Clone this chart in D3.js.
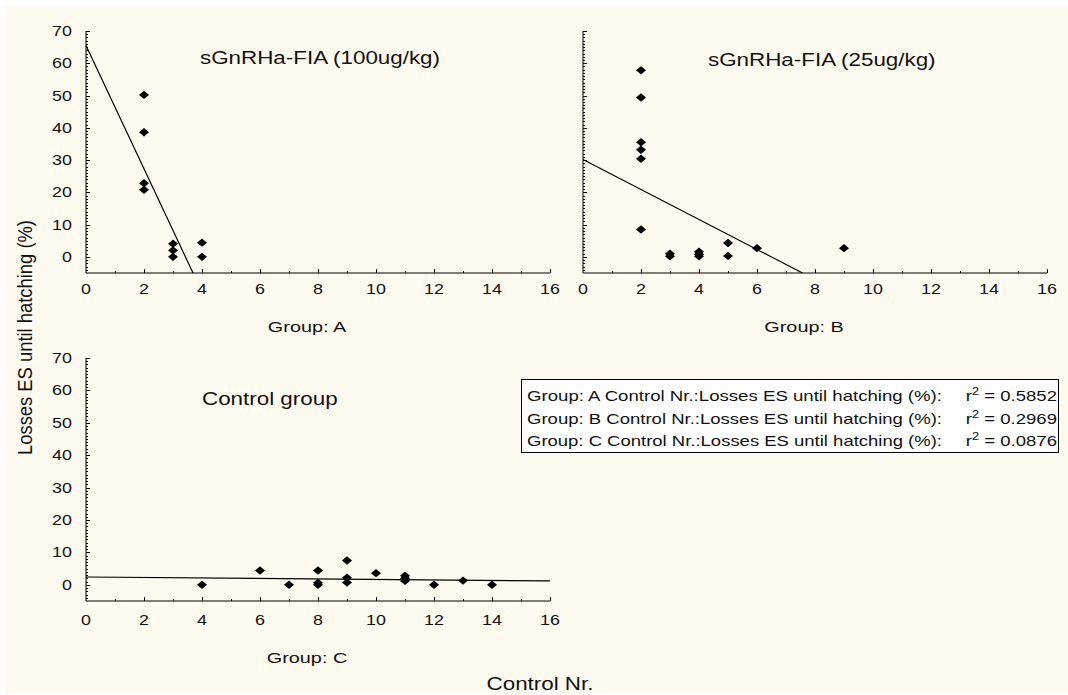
<!DOCTYPE html>
<html>
<head>
<meta charset="utf-8">
<script src="https://cdn.jsdelivr.net/npm/d3@7"></script>
<style>
  html, body { margin: 0; padding: 0; background: #fff; }
  .js-container { width: 1068px; height: 695px; }
  text { font-family: "Liberation Sans", Arial, sans-serif; fill: #111; }
</style>
</head>
<body>
<div class="js-container"></div>
<script>
// Values: Control Nr. (x) against losses (%) (y).
var groupNames = ['A', 'B', 'C'];
var panelTitles = ['sGnRHa-FIA (100ug/kg)', 'sGnRHa-FIA (25ug/kg)', 'Control group'];

var groupA_x = [2, 2, 2, 2, 3, 3, 3, 4, 4];
var groupA_y = [50.2, 38.6, 22.8, 20.8, 4.1, 2.0, 0, 4.4, 0];

var groupB_x = [2, 2, 2, 2, 2, 2, 3, 3, 4, 4, 4, 5, 5, 6, 9];
var groupB_y = [57.8, 49.4, 35.5, 33.2, 30.4, 8.5, 1.0, 0.2, 1.6, 0.8, 0.2, 4.3, 0.3, 2.7, 2.7];

var groupC_x = [4, 6, 7, 8, 8, 8, 9, 9, 9, 10, 11, 11, 11, 12, 13, 14];
var groupC_y = [0, 4.4, 0, 4.4, 0.6, 0, 7.5, 2.2, 0.7, 3.6, 2.8, 2.0, 1.2, 0, 1.3, 0];

// Fitted lines as drawn in the picture, and the r2 from the legend.
var fitIntercept = [65.5, 30.2, 2.4];
var fitSlope = [-19.1, -4.65, -0.075];
var rSquared = ['0.5852', '0.2969', '0.0876'];

var xTicks = [0, 2, 4, 6, 8, 10, 12, 14, 16];
var yTicks = [0, 10, 20, 30, 40, 50, 60, 70];

;(function() {
  'use strict';

  // The picture is stretched sideways, so the text is too.
  var SX = 1.28;

  var xDomain = [0, 16];
  var yDomain = [-5, 70];

  var panels = [
    {xs: groupA_x, ys: groupA_y, x0: 86,  x1: 550,  y0: 273, y1: 31,  yLabels: true,
     titleX: 200, titleY: 63.5, tickGap: 20.5, groupY: 331.5},
    {xs: groupB_x, ys: groupB_y, x0: 583, x1: 1047, y0: 273, y1: 31,  yLabels: false,
     titleX: 708, titleY: 65.5, tickGap: 20.5, groupY: 331.5},
    {xs: groupC_x, ys: groupC_y, x0: 86,  x1: 550,  y0: 601, y1: 358, yLabels: true,
     titleX: 202, titleY: 404.5, tickGap: 24, groupY: 663}
  ];

  var svg = d3.select('.js-container').append('svg')
              .attr('width', 1068)
              .attr('height', 695);

  svg.append('rect')
      .attr('x', 5)
      .attr('y', 7)
      .attr('width', 1063)
      .attr('height', 686)
      .attr('fill', '#fffaf0');

  panels.forEach(function(p, i) {
    drawPanel(p, i);
  });

  drawLegend();

  // Common axis titles.
  svg.append('text')
      .attr('transform', 'translate(31.5,337.5) scale(' + SX + ',1) rotate(-90)')
      .attr('text-anchor', 'middle')
      .attr('font-size', 15.5)
      .attr('textLength', 235)
      .attr('lengthAdjust', 'spacingAndGlyphs')
      .text('Losses ES until hatching (%)');

  stretchText(svg, 540, 690, 'Control Nr.', 17.5, 'middle');

  /**
   * Draws one scatter panel: axes, points and fitted line.
   */
  function drawPanel(p, idx) {
    var x = d3.scaleLinear().domain(xDomain).range([p.x0, p.x1]);
    var y = d3.scaleLinear().domain(yDomain).range([p.y0, p.y1]);

    var g = svg.append('g').classed('panel-' + idx, true);

    // Axis lines.
    g.append('line')
        .attr('x1', x(0)).attr('x2', x(0))
        .attr('y1', y(70)).attr('y2', y(-5))
        .attr('stroke', '#000').attr('stroke-width', 1);
    g.append('line')
        .attr('x1', x(0)).attr('x2', x(16))
        .attr('y1', y(-5)).attr('y2', y(-5))
        .attr('stroke', '#000').attr('stroke-width', 1);

    // Y ticks: minor every unit, major every 10, pointing inward.
    var yMinor = d3.range(-4, 71, 1);
    g.selectAll('.ytick')
        .data(yMinor)
      .enter().append('line')
        .attr('x1', x(0))
        .attr('x2', function(d) { return x(0) + (d % 10 === 0 ? 4 : 2); })
        .attr('y1', function(d) { return Math.round(y(d)) + 0.5; })
        .attr('y2', function(d) { return Math.round(y(d)) + 0.5; })
        .attr('stroke', '#000').attr('stroke-width', 1);

    // X ticks: major every 2, minor at odd values, pointing up.
    var xMinor = d3.range(1, 17, 1);
    g.selectAll('.xtick')
        .data(xMinor)
      .enter().append('line')
        .attr('x1', function(d) { return Math.round(x(d)) + 0.5; })
        .attr('x2', function(d) { return Math.round(x(d)) + 0.5; })
        .attr('y1', y(-5))
        .attr('y2', function(d) { return y(-5) - (d % 2 === 0 ? 4 : 2); })
        .attr('stroke', '#000').attr('stroke-width', 1);

    xTicks.forEach(function(t) {
      stretchText(g, x(t), y(-5) + p.tickGap, String(t), 14, 'middle');
    });

    if (p.yLabels) {
      yTicks.forEach(function(t) {
        stretchText(g, x(0) - 14, y(t) + 5, String(t), 14, 'end');
      });
    }

    // Fitted line, clipped where it leaves the plot.
    var b = fitIntercept[idx];
    var m = fitSlope[idx];
    var xEnd = 16;
    if (b + m * 16 < -5) {
      xEnd = (-5 - b) / m;
    }
    g.append('line')
        .attr('x1', x(0)).attr('y1', y(b))
        .attr('x2', x(xEnd)).attr('y2', y(b + m * xEnd))
        .attr('stroke', '#000')
        .attr('stroke-width', 1.2);

    // Diamonds.
    var pts = p.xs.map(function(v, k) { return [v, p.ys[k]]; });
    g.selectAll('.pt')
        .data(pts)
      .enter().append('path')
        .attr('d', function(d) {
          var cx = x(d[0]), cy = y(d[1]);
          return 'M' + (cx - 5) + ',' + cy + 'L' + cx + ',' + (cy - 4.2) +
                 'L' + (cx + 5) + ',' + cy + 'L' + cx + ',' + (cy + 4.2) + 'Z';
        })
        .attr('fill', '#000');

    stretchText(g, p.titleX, p.titleY, panelTitles[idx], 17.5, 'start');
    stretchText(g, x(0) + 221, p.groupY, 'Group:  ' + groupNames[idx], 15.5, 'middle');
  }

  /**
   * Boxed legend listing the r2 of each fitted line.
   */
  function drawLegend() {
    var lg = svg.append('g').classed('legend', true);
    lg.append('rect')
        .attr('x', 521.5).attr('y', 379.5)
        .attr('width', 537).attr('height', 73)
        .attr('fill', '#fff')
        .attr('stroke', '#000')
        .attr('stroke-width', 1);

    var baselines = [401, 424, 446];
    groupNames.forEach(function(name, i) {
      lg.append('text')
          .attr('x', 527)
          .attr('y', baselines[i])
          .attr('font-size', 14.5)
          .attr('textLength', 415)
          .attr('lengthAdjust', 'spacingAndGlyphs')
          .text('Group: ' + name + '  Control Nr.:Losses ES until hatching (%):');

      var t = lg.append('text')
          .attr('transform', 'translate(1057,' + baselines[i] + ') scale(' + SX + ',1)')
          .attr('text-anchor', 'end')
          .attr('font-size', 14.5);
      t.append('tspan').text('r');
      t.append('tspan').attr('font-size', 10).attr('dy', -6).text('2');
      t.append('tspan').attr('dy', 6).text(' = ' + rSquared[i]);
    });
  }

  /**
   * Appends horizontal text widened by SX to match the picture.
   */
  function stretchText(parent, x, y, str, size, anchor) {
    return parent.append('text')
        .attr('transform', 'translate(' + x + ',' + y + ') scale(' + SX + ',1)')
        .attr('text-anchor', anchor)
        .attr('font-size', size)
        .text(str);
  }

}());
</script>
</body>
</html>
